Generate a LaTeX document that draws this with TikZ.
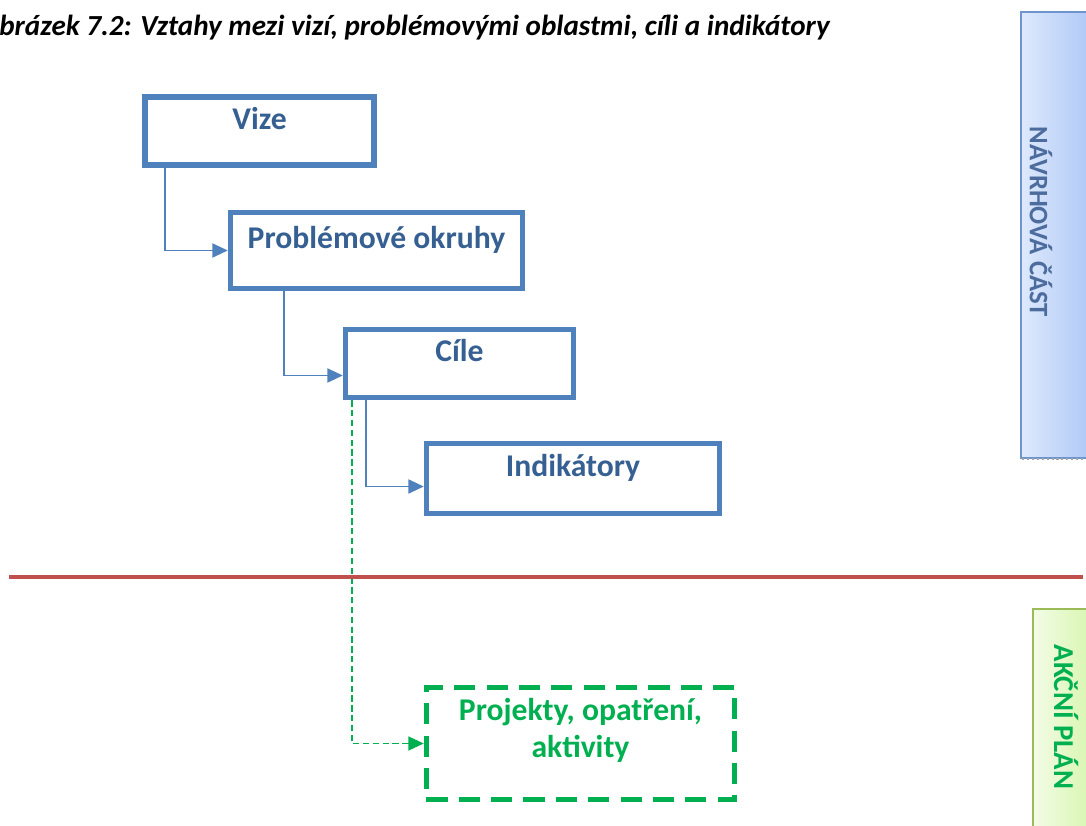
\documentclass[tikz,border=0pt]{standalone}
\usepackage{fontspec}
\setmainfont{Carlito}
\usetikzlibrary{arrows.meta,calc}

\definecolor{boxblue}{RGB}{79,129,189}
\definecolor{textblue}{RGB}{54,96,146}
\definecolor{divred}{RGB}{192,80,77}
\definecolor{actgreen}{RGB}{0,176,80}
\definecolor{navleft}{RGB}{222,233,252}
\definecolor{navright}{RGB}{168,196,245}
\definecolor{navborder}{RGB}{110,148,205}
\definecolor{navtext}{RGB}{76,108,158}
\definecolor{actleft}{RGB}{243,252,230}
\definecolor{actright}{RGB}{212,245,168}
\definecolor{actborder}{RGB}{155,187,89}

\begin{document}
\begin{tikzpicture}[
  x=0.025cm, y=-0.025cm,
  box/.style={draw=boxblue, line width=3.8pt, inner sep=0pt, text=textblue,
    font=\fontsize{22.5}{27}\selectfont\bfseries, text height=15pt, text depth=17.8pt},
  actbox/.style={draw=actgreen, line width=3.8pt, dash pattern=on 15pt off 8pt,
    inner sep=0pt, text=actgreen, align=center,
    font=\fontsize{22.5}{26}\selectfont\bfseries, text height=30pt, text depth=10.8pt},
  conn/.style={draw=boxblue, line width=1.4pt, -{Triangle[length=11pt,width=10pt]}},
  actconn/.style={draw=actgreen, line width=1pt, dash pattern=on 4.5pt off 2.5pt,
    -{Triangle[length=11pt,width=10pt]}},
  sidetext/.style={rotate=-90, font=\fontsize{19}{22}\selectfont\bfseries, inner sep=0pt}
]
  \useasboundingbox (0,0) rectangle (1086,826);

  % Title
  \node[anchor=base west, inner sep=0pt, font=\fontsize{20.7}{24}\selectfont\bfseries\itshape]
    (title) at (-1,36) {brázek 7.2: Vztahy mezi vizí, problémovými oblastmi, cíli a indikátory};

  % Side bars
  \shade[left color=navleft, right color=navright, draw=navborder, line width=0.8pt]
    (1021,12) rectangle (1100,458);
  \draw[gray!70, line width=1.5pt, dotted] (1022,459) -- (1086,459);
  \node[sidetext, text=navtext] (navrh) at (1041,222) {NÁVRHOVÁ ČÁST};
  \shade[left color=actleft, right color=actright, draw=actborder, line width=0.8pt]
    (1033,609) rectangle (1100,840);
  \node[sidetext, text=actgreen, font=\fontsize{20.5}{24}\selectfont\bfseries]
    (akce) at (1066,717) {AKČNÍ PLÁN};

  % Levels
  \node[box, minimum width=5.725cm, minimum height=1.7cm] (vize) at (259.5,131) {Vize};
  \node[box, minimum width=7.3cm, minimum height=1.9cm] (okruhy) at (376.5,250.5) {Problémové okruhy};
  \node[box, minimum width=5.7cm, minimum height=1.7cm] (cile) at (459.5,363.5) {Cíle};
  \node[box, minimum width=7.325cm, minimum height=1.75cm] (indik) at (573,478.5) {Indikátory};
  \node[actbox, minimum width=7.7cm, minimum height=2.8cm] (projekty) at (580.5,743.5)
    {Projekty, opatření,\\aktivity};

  \draw[conn] ($(vize.south west)+(23,0)$) |- (okruhy.west);
  \draw[conn] ($(okruhy.south west)+(56,0)$) |- ($(cile.west)+(0,12)$);
  \draw[conn] ($(cile.south west)+(23,0)$) |- ($(indik.west)+(0,8)$);
  \draw[actconn] ($(cile.south west)+(9,0)$) |- (projekty.west);

  % Divider
  \coordinate (divl) at (9,577);
  \coordinate (divr) at (1083,577);
  \draw[divred, line width=2.8pt] (divl) -- (divr);
\end{tikzpicture}
\end{document}
